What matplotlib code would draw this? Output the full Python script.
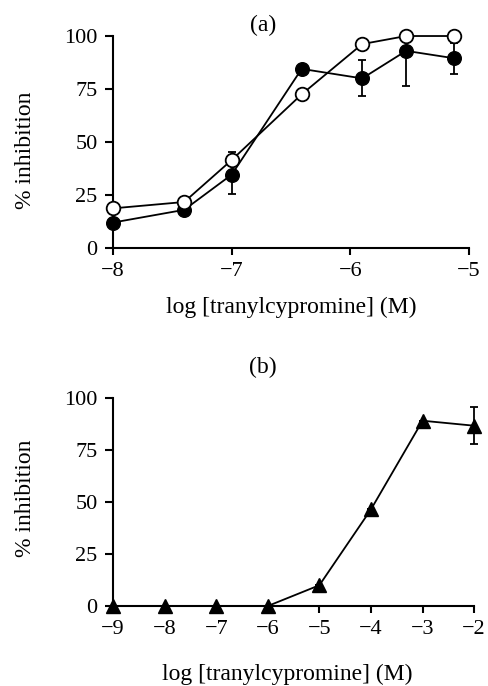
import numpy as np
import matplotlib
matplotlib.use("Agg")
import matplotlib.pyplot as plt

plt.rcParams['font.family'] = ['Liberation Serif', 'DejaVu Serif']

# panel (a): log concentration vs % inhibition
xa = [-8.0, -7.4, -7.0, -6.41, -5.9, -5.53, -5.125]
filled_a = [12, 18, 34.6, 84.5, 80, 93, 89.5]
filled_lo = [0, 0, 9, 0, 8.5, 16.6, 7.5]
filled_hi = [0, 0, 0, 0, 8.5, 0, 7]
open_a = [18.7, 21.7, 41.5, 72.5, 96.2, 100, 100]
open_lo = [0, 0, 0, 0, 0, 0, 0]
open_hi = [0, 0, 3.6, 0, 0, 0, 0]

# panel (b)
xb = [-9, -8, -7, -6, -5, -4, -3, -2]
tri_b = [0, 0, 0, 0, 10, 46.5, 89.2, 86.8]
tri_lo = [0, 0, 0, 0, 0, 0, 0, 9]
tri_hi = [0, 0, 0, 0, 0, 0, 0, 9]

fig = plt.figure(figsize=(4.88, 6.86), dpi=100)
ax1 = fig.add_axes([0.2316, 0.6385, 0.7295, 0.309])
ax2 = fig.add_axes([0.2316, 0.1166, 0.740, 0.3028])


def style(ax, xticks, ylab_xy, xlab_xy, title, title_xy):
    ax.spines['top'].set_visible(False)
    ax.spines['right'].set_visible(False)
    for s in ('left', 'bottom'):
        ax.spines[s].set_linewidth(1.5)
    ax.set_ylim(0, 100)
    ax.set_yticks([0, 25, 50, 75, 100])
    ax.set_xticks(xticks)
    ax.set_xticklabels(['\u2212%d' % abs(t) for t in xticks])
    ax.tick_params(direction='out', width=1.5, length=6, labelsize=16)
    ax.tick_params(axis='y', pad=5)
    ax.tick_params(axis='x', length=5, pad=5)
    ax.set_ylabel('% inhibition', fontsize=17)
    ax.yaxis.label.set_va('center')
    ax.yaxis.set_label_coords(*ylab_xy)
    ax.set_xlabel('log [tranylcypromine] (M)', fontsize=17)
    ax.xaxis.label.set_va('center')
    ax.xaxis.set_label_coords(*xlab_xy)
    ax.text(title_xy[0], title_xy[1], title, transform=ax.transAxes,
            ha='center', va='center', fontsize=17)


kw = dict(color='black', lw=1.3, ms=9.8, capsize=3.2, elinewidth=1.3,
          capthick=1.3, clip_on=False)

ax1.errorbar(xa, filled_a, yerr=[filled_lo, filled_hi], fmt='-o',
             mfc='black', mec='black', zorder=3, **kw)
ax1.errorbar(xa, open_a, yerr=[open_lo, open_hi], fmt='-o',
             mfc='white', mec='black', mew=1.3, zorder=4, **kw)
ax1.set_xlim(-8, -5)
style(ax1, [-8, -7, -6, -5], (-0.246, 0.462), (0.501, -0.281),
      '(a)', (0.421, 1.05))

ax2.errorbar(xb, tri_b, yerr=[tri_lo, tri_hi], fmt='-^',
             mfc='black', mec='black', zorder=3, **kw)
ax2.set_xlim(-9, -2)
style(ax2, xb, (-0.243, 0.52), (0.483, -0.327), '(b)', (0.415, 1.148))

fig.savefig('out.png', dpi=100)
